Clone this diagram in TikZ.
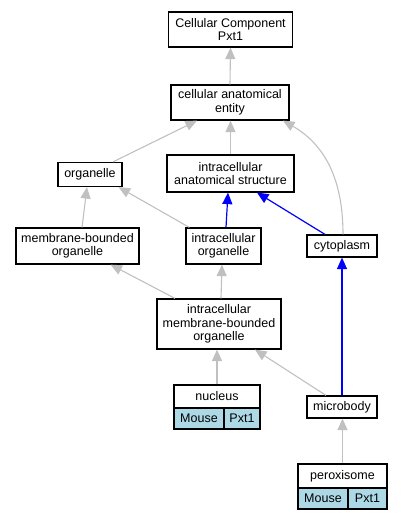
\documentclass[tikz,border=0pt]{standalone}
\usepackage{fontspec}
\setmainfont{Liberation Sans}
\usetikzlibrary{arrows.meta}
\definecolor{isagray}{HTML}{C0C0C0}
\definecolor{cellblue}{HTML}{ADD8E6}
\begin{document}
\begin{tikzpicture}[x=1pt,y=-1pt]
        \tikzstyle{term} = [draw, line width=1.2pt, fill=white, inner sep=0pt, align=center, font=\fontsize{12.5}{13.5}\selectfont]
        \tikzstyle{cell} = [term, fill=cellblue]
        \tikzstyle{isa} = [draw=isagray, line width=1.1pt, -{Triangle[length=11.5pt,width=10pt]}]
        \tikzstyle{partof} = [draw=blue, line width=1.2pt, -{Triangle[length=11.5pt,width=10pt]}]

		\useasboundingbox (0,0) rectangle (403,520);

		\node[term, minimum width=124, minimum height=35] (cc) at (230.5,29.5) {Cellular Component\\Pxt1};
		\node[term, minimum width=118, minimum height=35] (cae) at (230,102.5) {cellular anatomical\\entity};
		\node[term, minimum width=64, minimum height=24] (org) at (90,174.5) {organelle};
		\node[term, minimum width=127, minimum height=37] (ias) at (230.5,173.5) {intracellular\\anatomical structure};
		\node[term, minimum width=123, minimum height=36] (mbo) at (77.5,246) {membrane-bounded\\organelle};
		\node[term, minimum width=75, minimum height=36] (io) at (223.5,246) {intracellular\\organelle};
		\node[term, minimum width=70, minimum height=22] (cyto) at (342,246) {cytoplasm};
		\node[term, minimum width=124, minimum height=50] (imbo) at (219,324) {intracellular\\membrane-bounded\\organelle};
		\node[term, minimum width=86, minimum height=23] (nuc) at (217,396.5) {nucleus};
		\node[cell, minimum width=50, minimum height=21] (nucmouse) at (199,418.5) {Mouse};
		\node[cell, minimum width=36, minimum height=21] (nucgene) at (242,418.5) {Pxt1};
		\node[term, minimum width=70, minimum height=22] (mb) at (342,407) {microbody};
		\node[term, minimum width=89, minimum height=24] (per) at (342.5,476) {peroxisome};
		\node[cell, minimum width=50, minimum height=21] (permouse) at (323,498.5) {Mouse};
		\node[cell, minimum width=39, minimum height=21] (pergene) at (367.5,498.5) {Pxt1};

		\draw[isa] (cae.north) -- (cc.south);
		\draw[isa] ([xshift=23]org.north) -- ([xshift=-33]cae.south);
		\draw[isa] (ias.north) -- (ias.north |- cae.south);
		\draw[isa] ([xshift=1]cyto.north) .. controls (343,175) and (322,143) .. ([xshift=53]cae.south);
		\draw[isa] ([xshift=4.5]mbo.north) -- ([xshift=-3]org.south);
		\draw[isa] ([xshift=4]io.north west) -- ([xshift=-4]org.south east);
		\draw[partof] ([xshift=2.5]io.north) -- ([xshift=-2.5]ias.south);
		\draw[partof] ([xshift=-17]cyto.north) -- ([xshift=26.5]ias.south);
		\draw[isa] ([xshift=-44]imbo.north) -- ([xshift=33]mbo.south);
		\draw[isa] ([xshift=2]imbo.north) -- ([xshift=-1.5]io.south);
		\draw[isa] (nuc.north) -- (nuc.north |- imbo.south);
		\draw[isa] ([xshift=-16]mb.north) -- ([xshift=36]imbo.south);
		\draw[partof] (mb.north) -- (cyto.south);
		\draw[isa] (per.north) -- (per.north |- mb.south);

    \end{tikzpicture}
\end{document}
